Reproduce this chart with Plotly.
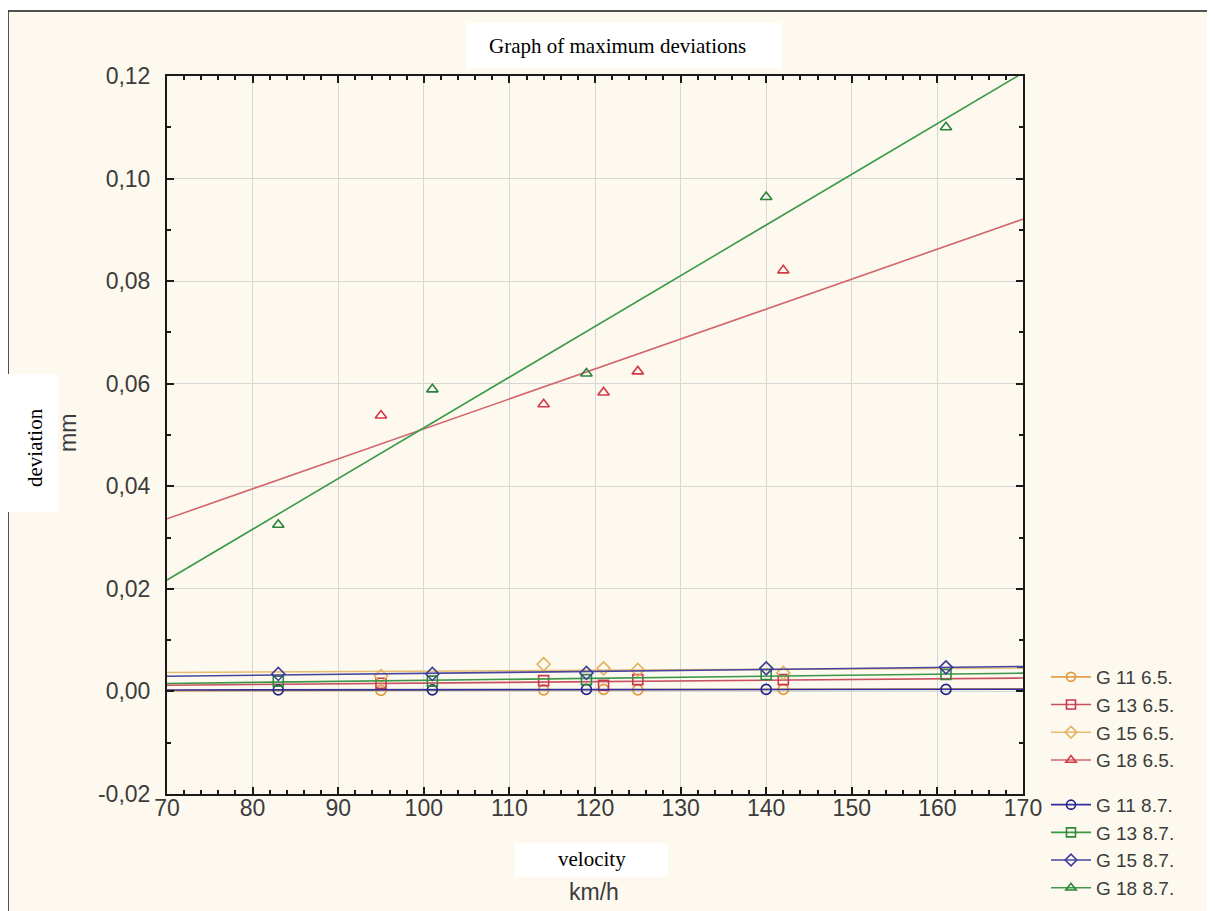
import numpy as np
import plotly.graph_objects as go

# ---------------- data ----------------
speed_65 = [95, 114, 121, 125, 142]
speed_87 = [83, 101, 119, 140, 161]

g11_65 = [0.0002, 0.0003, 0.0004, 0.0003, 0.0004]
g13_65 = [0.0016, 0.0021, 0.0012, 0.0023, 0.0023]
g15_65 = [0.0030, 0.0053, 0.0045, 0.0042, 0.0036]
g18_65 = [0.0538, 0.0560, 0.0583, 0.0624, 0.0821]

g11_87 = [0.0003, 0.0003, 0.0004, 0.0004, 0.0004]
g13_87 = [0.0020, 0.0020, 0.0023, 0.0033, 0.0033]
g15_87 = [0.0034, 0.0034, 0.0036, 0.0045, 0.0047]
g18_87 = [0.0325, 0.0589, 0.0620, 0.0964, 0.1100]

names = ["G 11 6.5.", "G 13 6.5.", "G 15 6.5.", "G 18 6.5.",
         "G 11 8.7.", "G 13 8.7.", "G 15 8.7.", "G 18 8.7."]

x_range = [70, 170]
x_ticks = [70, 80, 90, 100, 110, 120, 130, 140, 150, 160, 170]
y_ticks = [-0.02, 0.0, 0.02, 0.04, 0.06, 0.08, 0.10, 0.12]
y_ticktext = ["-0,02", "0,00", "0,02", "0,04", "0,06", "0,08", "0,10", "0,12"]

# ---------------- styles ----------------
series = [
    (names[0], speed_65, g11_65, "#E09A3A", "#E0A050", "circle-open", "6.5"),
    (names[1], speed_65, g13_65, "#C8384E", "#C85060", "square-open", "6.5"),
    (names[2], speed_65, g15_65, "#E2B060", "#E6BC70", "diamond-open", "6.5"),
    (names[3], speed_65, g18_65, "#D03A46", "#D2646C", "triangle-up-open", "6.5"),
    (names[4], speed_87, g11_87, "#22228C", "#30309A", "circle-open", "8.7"),
    (names[5], speed_87, g13_87, "#2E8A3A", "#3C9648", "square-open", "8.7"),
    (names[6], speed_87, g15_87, "#3C3C98", "#4646A0", "diamond-open", "8.7"),
    (names[7], speed_87, g18_87, "#2A8238", "#3C9A4C", "triangle-up-open", "8.7"),
]

fig = go.Figure()
xr = np.array(x_range, dtype=float)
for name, xs, ys, mcol, lcol, sym, grp in series:
    slope, icpt = np.polyfit(xs, ys, 1)
    fig.add_trace(go.Scatter(x=xr, y=slope * xr + icpt, mode="lines",
                             line=dict(color=lcol, width=1.6),
                             showlegend=False, legendgroup=grp, hoverinfo="skip"))
    fig.add_trace(go.Scatter(x=xs, y=ys, mode="markers",
                             marker=dict(symbol=sym, size=10, color=mcol,
                                         line=dict(width=1.6, color=mcol)),
                             showlegend=False, legendgroup=grp, name=name))
    fig.add_trace(go.Scatter(x=[None], y=[None], mode="lines+markers", name=name,
                             legendgroup=grp,
                             line=dict(color=lcol, width=1.6),
                             marker=dict(symbol=sym, size=9, color=mcol,
                                         line=dict(width=1.6, color=mcol))))

# page body has an 8px margin: figure coords = screen coords - 8
OFF = 8
W, H = 1215 - OFF, 911 - OFF
# plot area in screen pixels
L, R, T, B = 167, 1023, 76, 794
def px(v):
    return (v - L) / (R - L)
def py(v):
    return (B - v) / (B - T)

tick_font = dict(family="Liberation Sans, Arial, sans-serif", size=23, color="#3c3c3c")
legend_font = dict(family="Liberation Sans, Arial, sans-serif", size=19, color="#3c3c3c")
serif = dict(family="Liberation Serif, Times New Roman, serif", size=21, color="#000000")

shapes = [
    dict(type="rect", xref="paper", yref="paper", x0=px(8), x1=px(1213), y0=py(911), y1=py(11),
         fillcolor="#FDF9EE", line=dict(width=0), layer="below"),
    dict(type="line", xref="paper", yref="paper", x0=px(8), x1=px(1213), y0=py(11), y1=py(11),
         line=dict(color="#1a1a1a", width=1.5)),
    dict(type="line", xref="paper", yref="paper", x0=px(8), x1=px(8), y0=py(11), y1=py(911),
         line=dict(color="#1a1a1a", width=1.5)),
    dict(type="line", xref="paper", yref="paper", x0=px(1213), x1=px(1213), y0=py(11), y1=py(911),
         line=dict(color="#1a1a1a", width=1.5)),
    dict(type="rect", xref="paper", yref="paper", x0=px(466), x1=px(782), y0=py(68), y1=py(23),
         fillcolor="white", line=dict(width=0), layer="above"),
    dict(type="rect", xref="paper", yref="paper", x0=px(0), x1=px(58), y0=py(512), y1=py(374),
         fillcolor="white", line=dict(width=0), layer="above"),
    dict(type="rect", xref="paper", yref="paper", x0=px(515), x1=px(668), y0=py(877), y1=py(843),
         fillcolor="white", line=dict(width=0), layer="above"),
]

annotations = [
    dict(text="Graph of maximum deviations", xref="paper", yref="paper",
         x=px(617), y=py(46), showarrow=False, font=serif, xanchor="center", yanchor="middle"),
    dict(text="deviation", xref="paper", yref="paper", x=px(35), y=py(448),
         showarrow=False, font=serif, textangle=-90, xanchor="center", yanchor="middle"),
    dict(text="velocity", xref="paper", yref="paper", x=px(592), y=py(859),
         showarrow=False, font=serif, xanchor="center", yanchor="middle"),
    dict(text="mm", xref="paper", yref="paper", x=px(68), y=py(433),
         showarrow=False, font=tick_font, textangle=-90, xanchor="center", yanchor="middle"),
    dict(text="km/h", xref="paper", yref="paper", x=px(594), y=py(892),
         showarrow=False, font=tick_font, xanchor="center", yanchor="middle"),
]

fig.update_layout(
    width=W, height=H,
    margin=dict(l=L - OFF, r=W - (R - OFF), t=T - OFF, b=H - (B - OFF), pad=0, autoexpand=False),
    paper_bgcolor="white",
    plot_bgcolor="white",
    shapes=shapes,
    annotations=annotations,
    showlegend=True,
    legend=dict(x=px(1046), y=py(658), xanchor="left", yanchor="top",
                font=legend_font, bgcolor="rgba(0,0,0,0)",
                traceorder="grouped", tracegroupgap=17, itemwidth=40),
    xaxis=dict(range=x_range, tickvals=x_ticks, ticks="inside", ticklen=7, tickwidth=1.5,
               tickcolor="#1a1a1a", showline=True, linecolor="#1a1a1a", linewidth=2,
               mirror="allticks", showgrid=True, gridcolor="#d6d6d6", gridwidth=1,
               zeroline=False, tickfont=tick_font, ticklabelstandoff=-8,
               minor=dict(dtick=2, ticks="inside", ticklen=4, tickcolor="#1a1a1a", showgrid=False)),
    yaxis=dict(range=[y_ticks[0], y_ticks[-1]], tickvals=y_ticks, ticktext=y_ticktext,
               ticks="inside", ticklen=7, tickwidth=1.5, tickcolor="#1a1a1a",
               showline=True, linecolor="#1a1a1a", linewidth=2, mirror="allticks",
               showgrid=True, gridcolor="#d6d6d6", gridwidth=1, zeroline=False,
               tickfont=tick_font, ticklabelstandoff=10,
               minor=dict(tickvals=[-0.01, 0.01, 0.03, 0.05, 0.07, 0.09, 0.11],
                          ticks="inside", ticklen=4, tickcolor="#1a1a1a", showgrid=False)),
)

fig.write_html("out.html")
